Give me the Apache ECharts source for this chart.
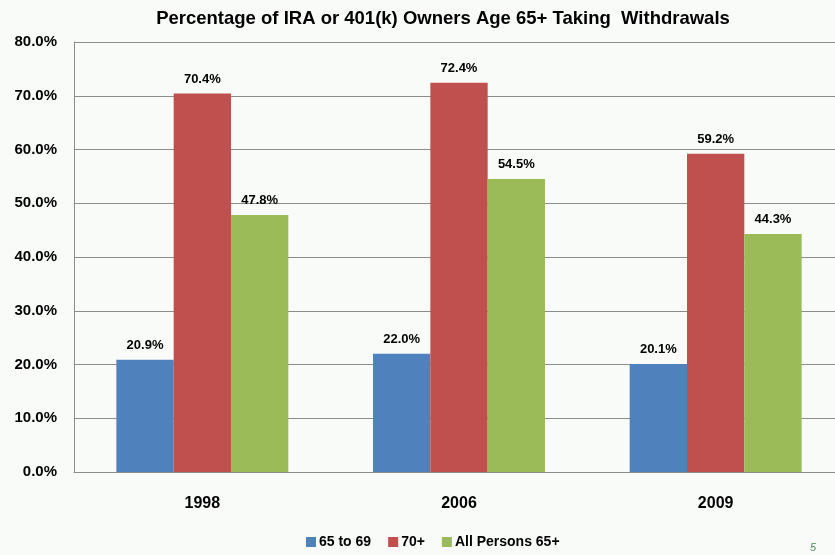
<!DOCTYPE html>
<html><head><meta charset="utf-8">
<script src="https://cdn.jsdelivr.net/npm/echarts@6/dist/echarts.min.js"></script>
<style>html,body{margin:0;padding:0;background:#f9fbf9}#c{width:835px;height:555px}</style>
</head><body><div id="c"></div>
<script>
const categories = ['1998', '2006', '2009'];
const seriesNames = ['65 to 69', '70+', 'All Persons 65+'];
const age65to69 = [20.9, 22.0, 20.1];
const age70plus = [70.4, 72.4, 59.2];
const allPersons65plus = [47.8, 54.5, 44.3];
const colors = ['#4f81bd', '#c0504d', '#9bbb59'];
const values = [age65to69, age70plus, allPersons65plus];

const chart = echarts.init(document.getElementById('c'));
const FONT = '"Liberation Sans", Arial, sans-serif';
chart.setOption({
  backgroundColor: '#f9fbf9',
  animation: false,
  title: {
    text: 'Percentage of IRA or 401(k) Owners Age 65+ Taking  Withdrawals',
    left: 438, textAlign: 'center', top: 4,
    textStyle: { fontFamily: FONT, fontWeight: 'bold', fontSize: 18.5, color: '#000' }
  },
  legend: {
    bottom: 1, left: 301, itemWidth: 10, itemHeight: 10, itemGap: 17,
    icon: 'rect',
    textStyle: { fontFamily: FONT, fontWeight: 'bold', fontSize: 14, color: '#000', padding: [0, 0, 0, -2] },
    data: seriesNames
  },
  grid: { left: 74, width: 770, top: 42, bottom: 83, containLabel: false, outerBoundsMode: 'none' },
  xAxis: {
    type: 'category', data: categories,
    axisLine: { lineStyle: { color: '#8c8c8c' } },
    axisTick: { show: false },
    axisLabel: { fontFamily: FONT, fontWeight: 'bold', fontSize: 16, color: '#000', margin: 24 }
  },
  yAxis: {
    type: 'value', min: 0, max: 80, interval: 10,
    axisLine: { show: true, lineStyle: { color: '#8c8c8c' } },
    axisTick: { show: false },
    splitLine: { lineStyle: { color: '#8c8c8c' } },
    axisLabel: { fontFamily: FONT, fontWeight: 'bold', fontSize: 15, color: '#000', margin: 17,
      formatter: v => v.toFixed(1) + '%' }
  },
  series: seriesNames.map((n, i) => ({
    name: n, type: 'bar', data: values[i],
    barGap: '0%', barCategoryGap: '33%',
    itemStyle: { color: colors[i] },
    label: { show: true, position: 'top', distance: 8, fontFamily: FONT, fontWeight: 'bold', fontSize: 13, color: '#000',
      formatter: p => p.value.toFixed(1) + '%' }
  })),
  graphic: [{ type: 'text', left: 810, top: 542, style: { text: '5', fill: '#4a8a5a', font: 'italic 11px "Liberation Sans", sans-serif' } }]
});
</script></body></html>
